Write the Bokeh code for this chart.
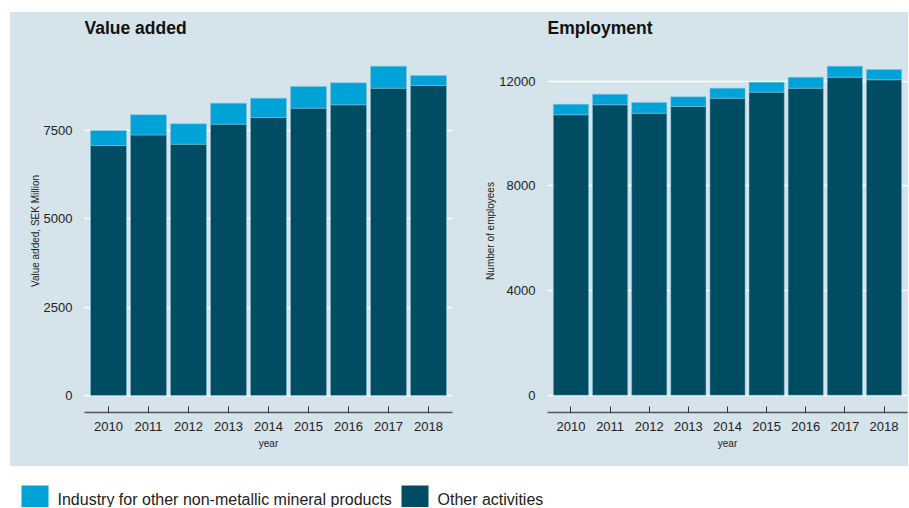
from bokeh.plotting import figure
from bokeh.models import FactorRange, Range1d, FixedTicker, ColumnDataSource
from bokeh.layouts import column, row
from bokeh.core.properties import value
from bokeh.embed import file_html
from bokeh.resources import INLINE

years = ["2010", "2011", "2012", "2013", "2014", "2015", "2016", "2017", "2018"]
series = ["Industry for other non-metallic mineral products", "Other activities"]

va_industry = [425, 571, 577, 594, 546, 614, 623, 623, 283]
va_other = [7075, 7373, 7112, 7678, 7868, 8131, 8227, 8697, 8774]

emp_industry = [405, 405, 409, 371, 382, 382, 421, 420, 394]
emp_other = [10716, 11098, 10777, 11033, 11350, 11580, 11732, 12153, 12053]

va_ticks = [0, 2500, 5000, 7500]
emp_ticks = [0, 4000, 8000, 12000]

BG = "#d5e3ea"
LIGHT = "#00a3d8"
DARK = "#004c63"
FONT = "Liberation Sans"

TITLE_H = 37
CHART_H = 417
BOTTOM = 54


def title_strip(text, width):
    # in a column, this strip's frame is aligned with the chart frame below,
    # so x=0 of a unit range is the chart's left edge
    t = figure(width=width, height=TITLE_H, x_range=Range1d(0, 1),
               y_range=Range1d(TITLE_H, 0), output_backend="svg",
               toolbar_location=None, x_axis_type=None, y_axis_type=None,
               min_border=0, outline_line_color=None,
               background_fill_color=BG, border_fill_color=BG)
    t.xgrid.visible = False
    t.ygrid.visible = False
    t.text(x=[0], y=[15], text=[text], text_font=value(FONT),
           text_font_size="17.5px", text_font_style="bold",
           text_color="#111111", text_baseline="middle", text_align="left")
    return t


def panel(title, ylabel, industry, other, yr, ticks, width, left, right):
    p = figure(
        x_range=FactorRange(*years, range_padding=0.1, range_padding_units="absolute"),
        y_range=Range1d(*yr),
        width=width, height=CHART_H,
        output_backend="svg", toolbar_location=None,
        min_border_left=left, min_border_right=right,
        min_border_top=0, min_border_bottom=BOTTOM,
        background_fill_color=BG, border_fill_color=BG,
        outline_line_color=None,
    )
    src = ColumnDataSource(dict(year=years, other=other, industry=industry))
    p.vbar_stack(["other", "industry"], x="year", width=0.9, source=src,
                 fill_color=[DARK, LIGHT], line_color="#8cc6dd", line_alpha=0.6,
                 line_width=0.8)

    p.xgrid.grid_line_color = None
    p.ygrid.grid_line_color = "white"
    p.ygrid.grid_line_width = 1.5
    p.ygrid.ticker = FixedTicker(ticks=ticks)

    ya = p.yaxis[0]
    ya.ticker = FixedTicker(ticks=ticks)
    ya.axis_line_color = None
    ya.major_tick_line_color = None
    ya.minor_tick_line_color = None
    ya.major_label_standoff = 6
    ya.major_label_text_font = FONT
    ya.major_label_text_font_size = "13px"
    ya.major_label_text_color = "#222222"
    ya.axis_label = ylabel
    ya.axis_label_text_font = FONT
    ya.axis_label_text_font_size = "10px"
    ya.axis_label_text_font_style = "normal"
    ya.axis_label_text_color = "#222222"
    ya.axis_label_standoff = 0

    xa = p.xaxis[0]
    xa.axis_line_color = "#555555"
    xa.axis_line_width = 1.3
    xa.major_tick_line_color = "#333333"
    xa.major_tick_in = 6
    xa.major_tick_out = 0
    xa.major_label_standoff = 9
    xa.major_label_text_font = FONT
    xa.major_label_text_font_size = "13px"
    xa.major_label_text_color = "#222222"
    xa.axis_label = "year"
    xa.axis_label_text_font = FONT
    xa.axis_label_text_font_size = "10px"
    xa.axis_label_text_font_style = "normal"
    xa.axis_label_text_color = "#222222"
    xa.axis_label_standoff = 4

    return column(title_strip(title, width), p, spacing=0)


c1 = panel("Value added", "Value added, SEK Million", va_industry, va_other,
           (-481, 9792), va_ticks, 450, 74, 8)
c2 = panel("Employment", "Number of employees", emp_industry, emp_other,
           (-660, 13210), emp_ticks, 448, 87, 1)

panels = row(c1, c2, spacing=0, styles={"background-color": BG})
panels.margin = (12, 0, 0, 10)

# legend strip
LW, LH = 908, 41
lg = figure(width=LW, height=LH, x_range=Range1d(0, LW), y_range=Range1d(LH, 0),
            output_backend="svg", toolbar_location=None,
            x_axis_type=None, y_axis_type=None, min_border=0,
            outline_line_color=None, background_fill_color="white",
            border_fill_color="white")
lg.xgrid.visible = False
lg.ygrid.visible = False
swatch_x = [21, 401]
swatch_w = 27
text_x = [57, 437]
lsrc = ColumnDataSource(dict(x=swatch_x, x2=[s + swatch_w for s in swatch_x],
                             tx=text_x, label=series, color=[LIGHT, DARK]))
lg.quad(left="x", right="x2", top=19, bottom=LH + 2, source=lsrc,
        fill_color="color", line_color=None)
lg.text(x="tx", y=33, text="label", source=lsrc, text_font=value(FONT),
        text_font_size="16px", text_baseline="middle", text_color="#222222")

layout = column(panels, lg, spacing=0)
open("out.html", "w").write(file_html(layout, INLINE))
